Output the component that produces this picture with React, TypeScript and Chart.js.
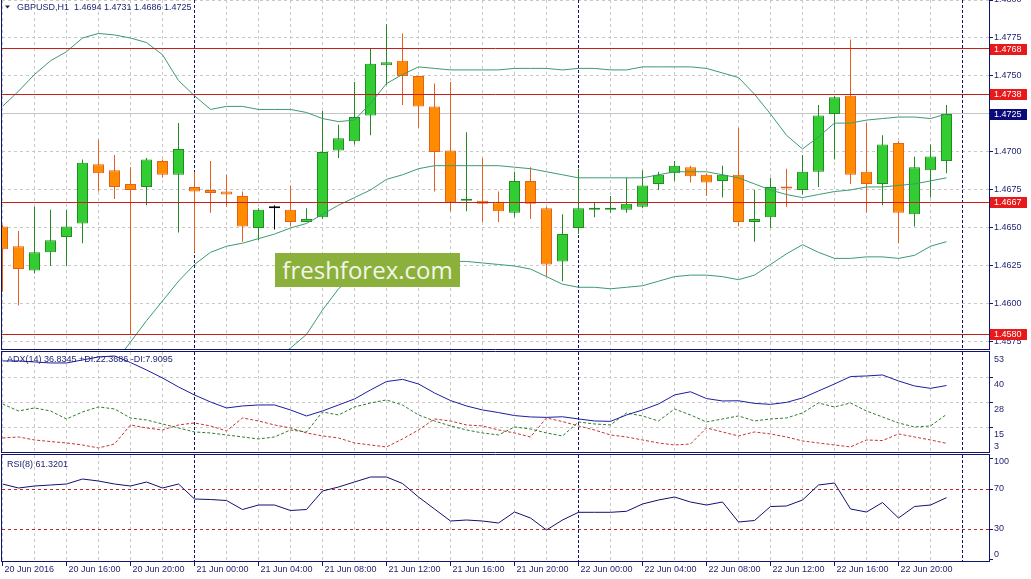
import React, { useEffect, useRef } from "react";
import { Chart, registerables } from "chart.js";

Chart.register(...registerables);

// ---------------- data ----------------
const symbolLabel = "GBPUSD,H1";

const openPrices = [
  1.4651, 1.4638, 1.4622, 1.4634, 1.4644, 1.4653, 1.4692, 1.4688, 1.4679, 1.4677,
  1.4694, 1.4685, 1.4677, 1.4675, 1.4674, 1.4671, 1.4650, 1.4663, 1.4662, 1.4654,
  1.4657, 1.4701, 1.4707, 1.4724, 1.4757, 1.4760, 1.4750, 1.4730, 1.4701, 1.4668,
  1.4668, 1.4667, 1.4660, 1.4681, 1.4663, 1.4628, 1.4650, 1.4662, 1.4662, 1.4662,
  1.4664, 1.4679, 1.4686, 1.4690, 1.4685, 1.4681, 1.4685, 1.4654, 1.4657, 1.4677,
  1.4675, 1.4687, 1.4725, 1.4737, 1.4687, 1.4679, 1.4706, 1.4659, 1.4688, 1.4694,
];
const highPrices = [
  1.4652, 1.4648, 1.4664, 1.4662, 1.4662, 1.4695, 1.4708, 1.4698, 1.4690, 1.4696,
  1.4695, 1.4719, 1.4687, 1.4694, 1.4685, 1.4674, 1.4663, 1.4665, 1.4678, 1.4663,
  1.4727, 1.4718, 1.4746, 1.4768, 1.4784, 1.4778, 1.4750, 1.4745, 1.4746, 1.4713,
  1.4696, 1.4674, 1.4687, 1.4690, 1.4664, 1.4659, 1.4689, 1.4667, 1.4671, 1.4683,
  1.4688, 1.4687, 1.4694, 1.4691, 1.4686, 1.4691, 1.4716, 1.4675, 1.4683, 1.4689,
  1.4698, 1.4731, 1.4737, 1.4774, 1.4719, 1.4711, 1.4707, 1.4697, 1.4705, 1.4731,
];
const lowPrices = [
  1.4608, 1.4599, 1.4620, 1.4625, 1.4625, 1.4640, 1.4674, 1.4669, 1.4580, 1.4665,
  1.4683, 1.4647, 1.4634, 1.4660, 1.4664, 1.4641, 1.4642, 1.4649, 1.4651, 1.4654,
  1.4656, 1.4696, 1.4705, 1.4711, 1.4744, 1.4731, 1.4716, 1.4674, 1.4661, 1.4661,
  1.4654, 1.4654, 1.4657, 1.4656, 1.4618, 1.4615, 1.4646, 1.4657, 1.4660, 1.4660,
  1.4663, 1.4675, 1.4681, 1.4680, 1.4671, 1.4670, 1.4651, 1.4641, 1.4650, 1.4664,
  1.4672, 1.4677, 1.4695, 1.4679, 1.4660, 1.4665, 1.4640, 1.4651, 1.4670, 1.4686,
];
const closePrices = [
  1.4636, 1.4623, 1.4634, 1.4642, 1.4651, 1.4693, 1.4686, 1.4677, 1.4675, 1.4695,
  1.4685, 1.4702, 1.4674, 1.4673, 1.4672, 1.4651, 1.4662, 1.4663, 1.4654, 1.4656,
  1.4700, 1.4709, 1.4723, 1.4758, 1.4759, 1.4750, 1.4730, 1.4700, 1.4667, 1.4669,
  1.4666, 1.4661, 1.4681, 1.4666, 1.4626, 1.4646, 1.4663, 1.4663, 1.4663, 1.4666,
  1.4678, 1.4685, 1.4691, 1.4684, 1.4680, 1.4685, 1.4654, 1.4656, 1.4677, 1.4676,
  1.4687, 1.4724, 1.4736, 1.4685, 1.4679, 1.4705, 1.4660, 1.4690, 1.4697, 1.4725,
];

const bbUpper = [
  1.4730, 1.4740, 1.4751, 1.4760, 1.4766, 1.4775, 1.4778, 1.4777, 1.4775, 1.4772,
  1.4764, 1.4747, 1.4737, 1.4728, 1.4730, 1.4730, 1.4728, 1.4728, 1.4728, 1.4726,
  1.4722, 1.4720, 1.4721, 1.4732, 1.4745, 1.4751, 1.4756, 1.4755, 1.4754, 1.4754,
  1.4754, 1.4754, 1.4755, 1.4755, 1.4755, 1.4754, 1.4755, 1.4755, 1.4754, 1.4754,
  1.4756, 1.4756, 1.4756, 1.4756, 1.4755, 1.4752, 1.4749, 1.4738, 1.4725, 1.4711,
  1.4702, 1.4710, 1.4719, 1.4719, 1.4721, 1.4722, 1.4723, 1.4723, 1.4722, 1.4725,
];
const bbMiddle = [
  1.4468, 1.4481, 1.4495, 1.4508, 1.4521, 1.4534, 1.4548, 1.4561, 1.4575, 1.4589,
  1.4602, 1.4615, 1.4626, 1.4634, 1.4638, 1.4640, 1.4643, 1.4646, 1.4650, 1.4653,
  1.4659, 1.4665, 1.4670, 1.4675, 1.4682, 1.4685, 1.4689, 1.4691, 1.4691, 1.4691,
  1.4691, 1.4691, 1.4690, 1.4689, 1.4687, 1.4685, 1.4683, 1.4683, 1.4683, 1.4683,
  1.4683, 1.4685, 1.4687, 1.4687, 1.4687, 1.4685, 1.4683, 1.4679, 1.4675, 1.4672,
  1.4670, 1.4672, 1.4674, 1.4675, 1.4677, 1.4677, 1.4678, 1.4679, 1.4681, 1.4683,
];
const bbLower = [
  1.4207, 1.4223, 1.4238, 1.4256, 1.4276, 1.4293, 1.4317, 1.4344, 1.4375, 1.4407,
  1.4440, 1.4482, 1.4516, 1.4539, 1.4545, 1.4550, 1.4558, 1.4564, 1.4571, 1.4580,
  1.4596, 1.4610, 1.4618, 1.4619, 1.4619, 1.4619, 1.4622, 1.4626, 1.4628, 1.4628,
  1.4627, 1.4626, 1.4625, 1.4623, 1.4618, 1.4613, 1.4611, 1.4611, 1.4610, 1.4611,
  1.4612, 1.4615, 1.4618, 1.4619, 1.4619, 1.4618, 1.4616, 1.4619, 1.4626, 1.4633,
  1.4639, 1.4634, 1.4630, 1.4630, 1.4631, 1.4631, 1.4630, 1.4632, 1.4638, 1.4641,
];

const adxMain = [
  49.1, 49.1, 48.6, 48.1, 48.1, 49.6, 51.1, 51.6, 48.3, 44.6,
  40.6, 36.1, 32.1, 28.6, 25.6, 26.6, 27.1, 27.1, 24.6, 21.6,
  24.1, 27.1, 30.1, 34.6, 38.8, 39.9, 37.6, 33.1, 29.3, 26.6,
  24.6, 23.3, 21.8, 21.1, 20.9, 21.2, 20.1, 19.1, 18.9, 22.1,
  24.6, 27.6, 32.1, 33.7, 30.3, 29.1, 29.2, 27.9, 27.4, 28.4,
  30.6, 34.1, 37.6, 41.3, 41.6, 42.1, 39.1, 36.6, 35.4, 36.83,
];
const plusDI = [
  27.6, 24.1, 25.6, 24.1, 20.1, 23.6, 26.1, 25.1, 20.6, 19.6,
  17.6, 15.6, 13.6, 13.1, 12.1, 11.1, 10.1, 11.1, 14.6, 13.6,
  23.6, 22.1, 26.1, 28.1, 29.6, 27.1, 22.1, 19.1, 16.6, 14.6,
  13.1, 12.1, 16.1, 15.1, 13.1, 11.6, 18.6, 17.6, 17.1, 23.1,
  21.6, 19.1, 25.1, 22.1, 18.6, 20.1, 21.6, 19.1, 20.1, 20.6,
  23.1, 28.1, 26.1, 28.1, 24.1, 21.1, 18.1, 16.1, 16.6, 22.37,
];
const minusDI = [
  10.6, 11.1, 9.6, 8.8, 8.1, 7.1, 5.6, 7.6, 17.1, 15.6,
  14.6, 17.1, 18.1, 16.6, 14.1, 20.6, 19.1, 17.1, 15.6, 13.1,
  11.6, 10.6, 8.1, 7.1, 6.1, 10.1, 14.6, 20.1, 19.1, 17.1,
  16.6, 14.6, 13.1, 11.1, 20.6, 18.8, 16.6, 14.6, 12.1, 11.1,
  9.6, 8.1, 7.1, 7.6, 15.6, 13.6, 11.6, 13.6, 12.6, 11.1,
  9.1, 8.1, 7.1, 6.1, 9.6, 9.3, 12.6, 11.1, 9.6, 7.91,
];
const rsiValues = [
  75, 71, 73, 74, 75, 80, 78, 75, 73, 77,
  71, 75, 60, 59.5, 58.5, 49.5, 54, 54, 48.5, 49.5,
  68, 72, 77, 82, 82, 75.5, 62, 50, 38, 39,
  38, 36, 47, 41, 29, 39, 46.7, 46.7, 46.7, 47.7,
  55, 59, 62, 57, 54, 57, 37, 38.5, 52.5, 53,
  59, 74, 76, 50, 47, 56.5, 41, 52.5, 54, 61.32,
];

const timeTickIndex = [0, 4, 8, 12, 16, 20, 24, 28, 32, 36, 40, 44, 48, 52, 56];
const timeTickLabels = [
  "20 Jun 2016", "20 Jun 16:00", "20 Jun 20:00", "21 Jun 00:00", "21 Jun 04:00",
  "21 Jun 08:00", "21 Jun 12:00", "21 Jun 16:00", "21 Jun 20:00", "22 Jun 00:00",
  "22 Jun 04:00", "22 Jun 08:00", "22 Jun 12:00", "22 Jun 16:00", "22 Jun 20:00",
];
const daySeparators = [12, 36, 60];
const priceTicks = [1.48, 1.4775, 1.475, 1.4725, 1.47, 1.4675, 1.465, 1.4625, 1.46, 1.4575];
const levelLines = [1.4768, 1.4738, 1.4667, 1.458];
const bidPrice = 1.4725;
const adxTickLabels = ["53", "40", "28", "15", "3"];
const adxHeader = "ADX(14) 36.8345 +DI:22.3686 -DI:7.9095";
const rsiHeader = "RSI(8) 61.3201";
const rsiLevels = [70, 30];
const rsiTickValues = [100, 70, 30, 0];

// ---------------- styling ----------------
const X_MIN = -0.03125;
const X_MAX = 61.65625;
const FONT = '9px "Liberation Sans", Arial, sans-serif';
const NAVY = "#10146a";
const TEXT = "#1c1f6e";
const GRID = "#c8c8c8";
const LEVEL = "#c81e1e";
const LEVEL_BOX = "#e8191b";
const BID_BOX = "#0a0a7a";
const BULL_FILL = "#32cd32";
const BULL_LINE = "#228b22";
const BEAR_FILL = "#ff8c00";
const BEAR_LINE = "#e4601e";
const DOJI = "#000000";
const BB = "#3c9a70";

const indices = openPrices.map((_, i) => i);

function seg(ctx: CanvasRenderingContext2D, x1: number, y1: number, x2: number, y2: number) {
  ctx.beginPath();
  ctx.moveTo(x1, y1);
  ctx.lineTo(x2, y2);
  ctx.stroke();
}
const crisp = (v: number) => Math.floor(v) + 0.5;

function drawVGrid(chart: any) {
  const { ctx, chartArea: a } = chart;
  const xs = chart.scales.x;
  ctx.save();
  ctx.lineWidth = 1;
  indices.forEach((i) => {
    if (i % 2 !== 0 || daySeparators.includes(i)) return;
    const px = crisp(xs.getPixelForValue(i));
    ctx.strokeStyle = GRID;
    ctx.setLineDash([3, 3]);
    seg(ctx, px, a.top, px, a.bottom);
  });
  daySeparators.forEach((i) => {
    const px = crisp(xs.getPixelForValue(i));
    ctx.strokeStyle = NAVY;
    ctx.setLineDash([3, 2]);
    seg(ctx, px, a.top, px, a.bottom);
  });
  ctx.restore();
}

function drawFrame(chart: any, withTop: boolean) {
  const { ctx, chartArea: a } = chart;
  ctx.save();
  ctx.strokeStyle = NAVY;
  ctx.lineWidth = 1;
  ctx.setLineDash([]);
  const t = withTop ? a.top - 0.5 : 0;
  const b = a.bottom + 0.5;
  seg(ctx, 1.5, t, 1.5, b);
  seg(ctx, 989.5, t, 989.5, b);
  seg(ctx, 1, b, 990, b);
  if (withTop) seg(ctx, 1, t, 990, t);
  ctx.restore();
}

function baseOptions(yMin: number, yMax: number, padding: any, plugin: any) {
  return {
    animation: false,
    responsive: false,
    maintainAspectRatio: false,
    devicePixelRatio: 1,
    events: [],
    layout: { padding },
    plugins: { legend: { display: false }, tooltip: { enabled: false }, title: { display: false } },
    scales: {
      x: { type: "linear", min: X_MIN, max: X_MAX, offset: false, display: false },
      y: { type: "linear", min: yMin, max: yMax, display: false },
    },
  };
}

const mainPlugin = {
  id: "mainDeco",
  beforeDatasetsDraw(chart: any) {
    const { ctx, chartArea: a } = chart;
    const ys = chart.scales.y;
    ctx.save();
    ctx.lineWidth = 1;
    ctx.strokeStyle = GRID;
    ctx.setLineDash([3, 3]);
    priceTicks.forEach((p) => {
      const py = crisp(ys.getPixelForValue(p));
      if (py < a.top || py > a.bottom) return;
      seg(ctx, a.left, py, a.right, py);
    });
    ctx.restore();
    drawVGrid(chart);
    ctx.save();
    ctx.strokeStyle = "#c4c4c4";
    ctx.lineWidth = 1;
    const by = crisp(ys.getPixelForValue(bidPrice));
    seg(ctx, a.left, by, a.right, by);
    ctx.restore();
  },
  afterDatasetsDraw(chart: any) {
    const { ctx, chartArea: a } = chart;
    const ys = chart.scales.y;
    ctx.save();
    ctx.strokeStyle = LEVEL;
    ctx.lineWidth = 1;
    levelLines.forEach((p) => {
      const py = crisp(ys.getPixelForValue(p));
      seg(ctx, a.left, py, a.right, py);
    });
    ctx.restore();
  },
  afterDraw(chart: any) {
    const { ctx } = chart;
    const ys = chart.scales.y;
    drawFrame(chart, false);
    ctx.save();
    ctx.font = FONT;
    ctx.textAlign = "left";
    ctx.textBaseline = "middle";
    ctx.fillStyle = TEXT;
    ctx.strokeStyle = NAVY;
    ctx.lineWidth = 1;
    priceTicks.forEach((p) => {
      const py = ys.getPixelForValue(p);
      ctx.fillText(p.toFixed(4), 994, py);
      seg(ctx, 990, crisp(py), 993, crisp(py));
    });
    const box = (p: number, color: string) => {
      const py = Math.round(ys.getPixelForValue(p));
      ctx.fillStyle = color;
      ctx.fillRect(990, py - 5, 37, 11);
      ctx.fillStyle = "#ffffff";
      ctx.fillText(p.toFixed(4), 994, py + 0.5);
    };
    levelLines.forEach((p) => box(p, LEVEL_BOX));
    box(bidPrice, BID_BOX);
    // header
    const last = openPrices.length - 1;
    ctx.fillStyle = TEXT;
    ctx.beginPath();
    ctx.moveTo(5, 5.5);
    ctx.lineTo(10, 5.5);
    ctx.lineTo(7.5, 8.5);
    ctx.closePath();
    ctx.fill();
    const header = `${symbolLabel}  ${openPrices[last].toFixed(4)} ${highPrices[last].toFixed(4)} ${lowPrices[last].toFixed(4)} ${closePrices[last].toFixed(4)}`;
    ctx.fillText(header, 17, 8);
    ctx.restore();
  },
};

const adxPlugin = {
  id: "adxDeco",
  beforeDatasetsDraw(chart: any) {
    const { ctx, chartArea: a } = chart;
    const h = a.bottom - a.top;
    ctx.save();
    ctx.strokeStyle = GRID;
    ctx.lineWidth = 1;
    ctx.setLineDash([3, 3]);
    [1, 2, 3].forEach((k) => {
      const gy = crisp(a.top + (h * k) / 4);
      seg(ctx, a.left, gy, a.right, gy);
    });
    ctx.restore();
    drawVGrid(chart);
  },
  afterDraw(chart: any) {
    const { ctx, chartArea: a } = chart;
    const h = a.bottom - a.top;
    drawFrame(chart, true);
    ctx.save();
    ctx.font = FONT;
    ctx.textAlign = "left";
    ctx.textBaseline = "middle";
    ctx.fillStyle = TEXT;
    ctx.strokeStyle = NAVY;
    adxTickLabels.forEach((t, k) => {
      const gy = a.top + (h * k) / 4;
      const ty = k === adxTickLabels.length - 1 ? a.bottom - 5 : gy + 8;
      ctx.fillText(t, 994, ty);
      if (k > 0 && k < 4) seg(ctx, 990, crisp(gy), 993, crisp(gy));
    });
    ctx.fillText(adxHeader, 7, 9);
    ctx.restore();
  },
};

const rsiPlugin = {
  id: "rsiDeco",
  beforeDatasetsDraw(chart: any) {
    const { ctx, chartArea: a } = chart;
    const ys = chart.scales.y;
    drawVGrid(chart);
    ctx.save();
    ctx.strokeStyle = "#c02828";
    ctx.lineWidth = 1;
    ctx.setLineDash([3, 3]);
    rsiLevels.forEach((v) => {
      const py = crisp(ys.getPixelForValue(v));
      seg(ctx, a.left, py, a.right, py);
    });
    ctx.restore();
  },
  afterDraw(chart: any) {
    const { ctx, chartArea: a } = chart;
    const ys = chart.scales.y;
    const xs = chart.scales.x;
    drawFrame(chart, true);
    ctx.save();
    ctx.font = FONT;
    ctx.textAlign = "left";
    ctx.textBaseline = "middle";
    ctx.fillStyle = TEXT;
    ctx.strokeStyle = NAVY;
    ctx.lineWidth = 1;
    rsiTickValues.forEach((v) => {
      const py = ys.getPixelForValue(v);
      const ty = Math.min(Math.max(py, a.top + 7), a.bottom - 6);
      ctx.fillText(String(v), 994, ty);
      seg(ctx, 990, crisp(py), 993, crisp(py));
    });
    ctx.fillText(rsiHeader, 7, 11);
    timeTickIndex.forEach((i, k) => {
      const px = crisp(xs.getPixelForValue(i));
      seg(ctx, px, a.bottom + 0.5, px, a.bottom + 5);
      ctx.fillText(timeTickLabels[k], px + 2, a.bottom + 9);
    });
    ctx.restore();
  },
};

const lineDs = (label: string, values: number[], color: string, dash: number[] = [], order = 0) => ({
  type: "line",
  label,
  data: indices.map((i) => ({ x: i, y: values[i] })),
  borderColor: color,
  borderWidth: 1,
  borderDash: dash,
  pointRadius: 0,
  pointHoverRadius: 0,
  tension: 0,
  fill: false,
  order,
});

export default function App() {
  const mainRef = useRef<HTMLCanvasElement>(null);
  const adxRef = useRef<HTMLCanvasElement>(null);
  const rsiRef = useRef<HTMLCanvasElement>(null);

  useEffect(() => {
    const charts: Chart[] = [];
    const isBull = (i: number) => closePrices[i] > openPrices[i];
    const isBear = (i: number) => closePrices[i] < openPrices[i];
    const bodyFill = indices.map((i) => (isBull(i) ? BULL_FILL : isBear(i) ? BEAR_FILL : DOJI));
    const bodyLine = indices.map((i) => (isBull(i) ? BULL_LINE : isBear(i) ? BEAR_LINE : DOJI));

    if (mainRef.current) {
      charts.push(
        new Chart(mainRef.current, {
          type: "bar",
          data: {
            datasets: [
              lineDs("BB upper", bbUpper, BB),
              lineDs("BB middle", bbMiddle, BB),
              lineDs("BB lower", bbLower, BB),
              {
                type: "bar",
                label: "body",
                data: indices.map((i) => ({ x: i, y: [openPrices[i], closePrices[i]] })),
                backgroundColor: bodyFill,
                borderColor: bodyLine,
                borderWidth: 1,
                borderSkipped: false,
                barThickness: 11,
                minBarLength: 2,
                inflateAmount: 0,
                grouped: false,
                order: 1,
              },
              {
                type: "bar",
                label: "wick",
                data: indices.map((i) => ({ x: i, y: [lowPrices[i], highPrices[i]] })),
                backgroundColor: bodyLine,
                borderWidth: 0,
                barThickness: 1,
                inflateAmount: 0,
                grouped: false,
                order: 2,
              },
            ] as any,
          },
          options: baseOptions(1.457039, 1.48, { left: 2, right: 42, top: 0, bottom: 2 }, null) as any,
          plugins: [mainPlugin],
        })
      );
    }
    if (adxRef.current) {
      charts.push(
        new Chart(adxRef.current, {
          type: "line",
          data: {
            datasets: [
              lineDs("-DI", minusDI, "#c83232", [3, 2], 2),
              lineDs("+DI", plusDI, "#2e7d2e", [3, 2], 1),
              lineDs("ADX", adxMain, "#1c1ca0", [], 0),
            ] as any,
          },
          options: baseOptions(3.58, 53.58, { left: 2, right: 42, top: 1, bottom: 2 }, null) as any,
          plugins: [adxPlugin],
        })
      );
    }
    if (rsiRef.current) {
      charts.push(
        new Chart(rsiRef.current, {
          type: "line",
          data: { datasets: [lineDs("RSI", rsiValues, "#10106e")] as any },
          options: baseOptions(-2, 104, { left: 2, right: 42, top: 1, bottom: 18 }, null) as any,
          plugins: [rsiPlugin],
        })
      );
    }
    return () => charts.forEach((c) => c.destroy());
  }, []);

  const abs = (top: number, h: number) => ({
    position: "absolute" as const,
    left: 0,
    top,
    width: 1031,
    height: h,
  });

  return (
    <div style={{ position: "absolute", left: 0, top: 0, width: 1031, height: 579, background: "#ffffff", overflow: "hidden" }}>
      <canvas ref={mainRef} width={1031} height={351} style={abs(0, 351)} />
      <canvas ref={adxRef} width={1031} height={103} style={abs(351, 103)} />
      <canvas ref={rsiRef} width={1031} height={125} style={abs(454, 125)} />
      <div
        style={{
          position: "absolute",
          left: 275,
          top: 253,
          width: 185,
          height: 34,
          background: "#8cb03c",
          color: "#f2f6e8",
          font: '24px "Open Sans", sans-serif',
          lineHeight: "34px",
          textAlign: "center",
        }}
      >
        freshforex.com
      </div>
    </div>
  );
}
